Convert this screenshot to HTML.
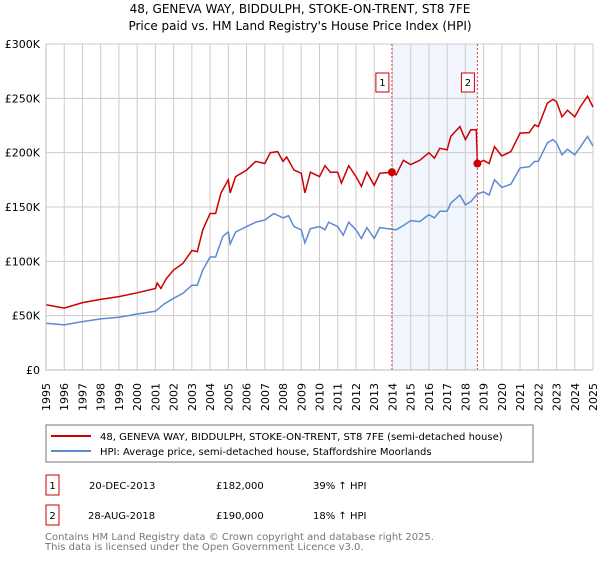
<!DOCTYPE html>
<html><head><meta charset="utf-8"><style>
body{margin:0;background:#fff;font-family:"Liberation Sans","DejaVu Sans",sans-serif;}
svg text{font-family:"DejaVu Sans","Liberation Sans",sans-serif;}
</style></head><body>
<svg id="c" width="600" height="560" xmlns="http://www.w3.org/2000/svg">
<text x="300" y="13" text-anchor="middle" font-size="12" fill="#000">48, GENEVA WAY, BIDDULPH, STOKE-ON-TRENT, ST8 7FE</text>
<text x="300" y="30" text-anchor="middle" font-size="12" fill="#000">Price paid vs. HM Land Registry's House Price Index (HPI)</text>
<g id="grid"></g><g id="marks"></g>
<rect x="46" y="425" width="487" height="37" fill="#fff" stroke="#777"/>
<line x1="51" y1="436" x2="91" y2="436" stroke="#cc0000" stroke-width="2"/>
<text x="100" y="440" font-size="10">48, GENEVA WAY, BIDDULPH, STOKE-ON-TRENT, ST8 7FE (semi-detached house)</text>
<line x1="51" y1="451" x2="91" y2="451" stroke="#5b8bd0" stroke-width="2"/>
<text x="100" y="455" font-size="10">HPI: Average price, semi-detached house, Staffordshire Moorlands</text>
<rect x="46" y="475" width="13" height="20" fill="#fff" stroke="#cc0000"/>
<text x="52.5" y="489" font-size="10" text-anchor="middle">1</text>
<text x="89" y="489" font-size="10">20-DEC-2013</text>
<text x="216" y="489" font-size="10">£182,000</text>
<text x="313" y="489" font-size="10">39% ↑ HPI</text>
<rect x="46" y="505" width="13" height="20" fill="#fff" stroke="#cc0000"/>
<text x="52.5" y="519" font-size="10" text-anchor="middle">2</text>
<text x="88" y="519" font-size="10">28-AUG-2018</text>
<text x="216" y="519" font-size="10">£190,000</text>
<text x="313" y="519" font-size="10">18% ↑ HPI</text>
<text x="45" y="540" font-size="10" fill="#777">Contains HM Land Registry data © Crown copyright and database right 2025.</text>
<text x="45" y="550" font-size="10" fill="#777">This data is licensed under the Open Government Licence v3.0.</text>
</svg>
<script>
const hpiYears=[1995,1996,1997,1998,1999,2000,2001,2001.5,2002,2002.5,2003,2003.3,2003.6,2004,2004.3,2004.7,2005,2005.1,2005.4,2006,2006.5,2007,2007.5,2008,2008.3,2008.6,2009,2009.2,2009.5,2010,2010.3,2010.5,2011,2011.3,2011.6,2012,2012.3,2012.6,2013,2013.3,2013.97,2014.2,2014.6,2015,2015.5,2016,2016.3,2016.6,2017,2017.2,2017.7,2018,2018.3,2018.66,2019,2019.3,2019.6,2020,2020.5,2021,2021.5,2021.8,2022,2022.5,2022.8,2023,2023.3,2023.6,2024,2024.3,2024.7,2025];
const hpiValues=[43,41.5,44.5,47,48.5,51.5,54,61,66,70.5,78,78,92,104,104,123,127,116,127,132,136,138,144,140,142,132,129,117,130,132,129,136,132,124,136,129,121,131,121,131,129.5,129,133,137.5,136.6,143,140,146,146,153.5,161,152,155,162,164,161,175,168,171,186,187,192,192,209,212,209,198,203,198,205,215,206];
const priceYears=[1995,1996,1997,1998,1999,2000,2001,2001.1,2001.3,2001.6,2002,2002.5,2003,2003.3,2003.6,2004,2004.3,2004.6,2005,2005.1,2005.4,2006,2006.5,2007,2007.3,2007.7,2008,2008.2,2008.6,2009,2009.2,2009.5,2010,2010.3,2010.6,2011,2011.2,2011.6,2012,2012.3,2012.6,2013,2013.3,2013.97,2014.2,2014.6,2015,2015.5,2016,2016.3,2016.6,2017,2017.2,2017.7,2018,2018.3,2018.6,2018.66,2019,2019.3,2019.6,2020,2020.5,2021,2021.5,2021.8,2022,2022.5,2022.8,2023,2023.3,2023.6,2024,2024.3,2024.7,2025];
const priceValues=[60,57,62,65,67.5,71,75,80,75,84,92,98,110,109,129,144,144,163,175,163,178,184,192,190,200,201,192,196,184,181,163,182,178,188,182,182,172,188,178,169,182,170,181,182,179.5,193,189,193,200,195,204,202.5,215,224,212,221,221,190,193,190,205.5,197,201,218,218.5,225.6,224,245.6,249,247,233,239,233,242,252,242];
const saleYears=[2013.97,2018.66];
const saleValues=[182,190];
const saleLabels=["1","2"];
const yTicks=[0,50,100,150,200,250,300];
const yTickLabels=["£0","£50K","£100K","£150K","£200K","£250K","£300K"];
const xTicks=[1995,1996,1997,1998,1999,2000,2001,2002,2003,2004,2005,2006,2007,2008,2009,2010,2011,2012,2013,2014,2015,2016,2017,2018,2019,2020,2021,2022,2023,2024,2025];
const X0=46,X1=593,Y0=370,Y1=44;
const xs=y=>X0+(y-1995)/30*(X1-X0);
const ys=v=>Y0-v/300*(Y0-Y1);
const NS="http://www.w3.org/2000/svg";
const grid=document.getElementById('grid'),marks=document.getElementById('marks');
function mk(p,tag,at){const e=document.createElementNS(NS,tag);for(const k in at)e.setAttribute(k,at[k]);p.appendChild(e);return e;}
const shade=mk(grid,'rect',{x:xs(saleYears[0]),y:Y1,width:xs(saleYears[1])-xs(saleYears[0]),height:Y0-Y1,fill:'#eef3fc',opacity:0.8});


xTicks.forEach(t=>{
 const l=mk(grid,'line',{x1:xs(t),x2:xs(t),y1:Y1,y2:Y0,stroke:'#ccc','stroke-width':1});
 
 
 const px=xs(t)+4,py=383;
 const tx=mk(grid,'text',{x:px,y:py,'text-anchor':'end','font-size':11,transform:`rotate(-90 ${px} ${py})`});
 tx.textContent=t;
 
 
});
yTicks.forEach((t,i)=>{
 const l=mk(grid,'line',{x1:X0,x2:X1,y1:ys(t),y2:ys(t),stroke:'#ccc','stroke-width':1});
 
 
 const tx=mk(grid,'text',{x:40,y:ys(t)+4,'text-anchor':'end','font-size':11});
 tx.textContent=yTickLabels[i];
 
 
});
const hp=mk(marks,'path',{d:hpiYears.map((y,i)=>(i?'L':'M')+xs(y).toFixed(1)+','+ys(hpiValues[i]).toFixed(1)).join(''),fill:'none',stroke:'#5b8bd0','stroke-width':1.5});


const pp=mk(marks,'path',{d:priceYears.map((y,i)=>(i?'L':'M')+xs(y).toFixed(1)+','+ys(priceValues[i]).toFixed(1)).join(''),fill:'none',stroke:'#cc0000','stroke-width':1.5});


saleYears.forEach((y,i)=>{
 const l=mk(marks,'line',{x1:xs(y),x2:xs(y),y1:Y1,y2:Y0,stroke:'#e04040','stroke-width':1,'stroke-dasharray':'2,2'});
 
 
 const c=mk(marks,'circle',{cx:xs(y),cy:ys(saleValues[i]),r:4,fill:'#cc0000'});
 
 
 const b=mk(marks,'rect',{x:xs(y)-16,y:73,width:13,height:19,fill:'#fff',stroke:'#cc0000'});
 
 
 const t=mk(marks,'text',{x:xs(y)-9.5,y:86,'text-anchor':'middle','font-size':10});
 t.textContent=saleLabels[i];
 
 
});
const ax=mk(marks,'path',{d:`M${X0},${Y1}V${Y0}H${X1}`,fill:'none',stroke:'#bbb'});


</script>
</body></html>
